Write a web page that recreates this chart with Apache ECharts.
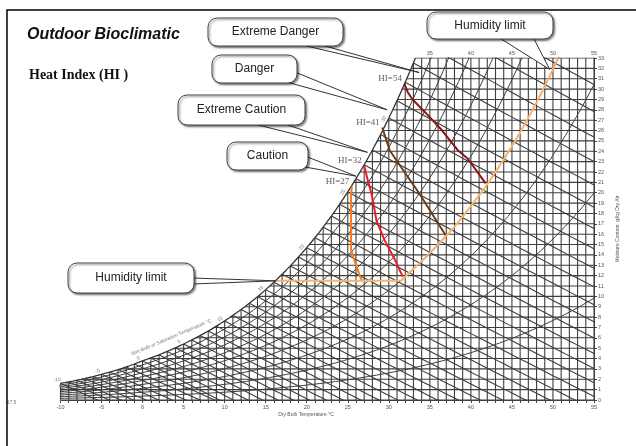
<!DOCTYPE html>
<html><head><meta charset="utf-8">
<script src="https://cdn.jsdelivr.net/npm/echarts@6/dist/echarts.min.js"></script>
<style>html,body{margin:0;padding:0;background:#fff}#c{width:636px;height:446px}</style>
</head><body><div id="c"></div>
<script>
// ---- chart structure (dry bulb °C and saturation vapour pressure kPa) ----
const satTemps = [-10,-9,-8,-7,-6,-5,-4,-3,-2,-1,0,1,2,3,4,5,6,7,8,9,10,11,12,13,14,15,16,17,18,19,20,21,22,23,24,25,26,27,28,29,30,31,32,33,34,35,36,37,38,39,40,41,42,43,44,45,46,47,48,49,50,51,52,53,54,55];
const satPressure = [0.2599,0.2839,0.3097,0.3376,0.3677,0.4015,0.4375,0.4760,0.5173,0.5626,0.6112,0.6571,0.7060,0.7581,0.8135,0.8726,0.9354,1.0021,1.0730,1.1482,1.2282,1.3129,1.4028,1.4981,1.5989,1.7057,1.8187,1.9383,2.0647,2.1982,2.3392,2.4881,2.6452,2.8109,2.9856,3.1697,3.3637,3.5679,3.7828,4.0089,4.2467,4.4966,4.7592,5.0351,5.3247,5.6286,5.9475,6.2818,6.6324,6.9997,7.3844,7.7873,8.2090,8.6503,9.1118,9.5944,10.099,10.626,11.177,11.752,12.352,12.978,13.631,14.312,15.022,15.762];
const moistureTicks = [0,1,2,3,4,5,6,7,8,9,10,11,12,13,14,15,16,17,18,19,20,21,22,23,24,25,26,27,28,29,30,31,32,33];
const wetBulbTemps = [-10,-9,-8,-7,-6,-5,-4,-3,-2,-1,0,1,2,3,4,5,6,7,8,9,10,11,12,13,14,15,16,17,18,19,20,21,22,23,24,25,26,27,28,29,30,31,32,33,34,35,36,37];
const rhLevels = [10,20,30,40,50,60,70,80,90];
const satLabelTemps = [-10,-5,0,5,10,15,20,25,30];
const topLabelTemps = [35,40,45,50,55];

// ---- heat index lines (dry bulb °C, moisture g/kg) ----
const hi27 = [[25.5,20.6],[25.4,19.9],[25.4,14.5],[25.8,13.5],[26.6,11.7],[26.8,11.5]];
const hi32 = [[27.0,22.6],[27.5,21.0],[27.9,19.9],[28.5,17.3],[29.5,15.4],[30.7,13.6],[31.7,11.9]];
const hi41 = [[29.2,26.3],[30.1,24.1],[31.9,22.0],[33.7,19.95],[35.4,17.8],[37.0,15.8]];
const hi54 = [[31.9,30.5],[32.3,29.7],[32.9,29.0],[34.5,27.7],[36.5,26.0],[38.4,24.1],[39.6,23.3],[41.8,20.9]];
const humidityLimit = [[16.3,11.5],[31.5,11.5],[32,11.9],[34,13.4],[36,15.0],[38,16.7],[40,18.7],[42,20.8],[44,23.2],[46,25.8],[48,28.7],[50,31.9],[50.6,33]];
const hiNames = ['HI=27','HI=32','HI=41','HI=54'];

// ---- callouts ----
const calloutLabels = ['Extreme Danger','Danger','Extreme Caution','Caution','Humidity limit','Humidity limit'];
const calloutTargets = [[33.7,31.6],[29.8,28.0],[27.4,23.9],[26.0,21.6],[49.6,31.9],[16.3,11.5]];

const P = 101.325;
function psAt(T){
  if (T <= satTemps[0]) return satPressure[0];
  let i = Math.min(Math.floor(T - satTemps[0]), satTemps.length - 2);
  const f = T - satTemps[i];
  return Math.exp(Math.log(satPressure[i])*(1-f) + Math.log(satPressure[i+1])*f);
}
function wFromP(pv){ return 622*pv/(P-pv); }
function wsat(T){ return wFromP(psAt(T)); }
function tsat(W){
  let lo=-10, hi=55;
  if (wsat(lo) >= W) return -10;
  for (let k=0;k<50;k++){ const m=(lo+hi)/2; if (wsat(m)<W) lo=m; else hi=m; }
  return (lo+hi)/2;
}
function wetBulbW(T, twb){
  const ws = wsat(twb)/1000;
  let w;
  if (twb >= 0) w = ((2501 - 2.326*twb)*ws - 1.006*(T - twb)) / (2501 + 1.86*T - 4.186*twb);
  else w = ((2830 - 0.24*twb)*ws - 1.006*(T - twb)) / (2830 + 1.86*T - 2.1*twb);
  return w*1000;
}

const GRID_COLOR = '#3e3e3e';
const base = {type:'line', symbol:'none', silent:true, animation:false, clip:true, xAxisIndex:0, yAxisIndex:0};
const series = [];
satTemps.forEach(T => {
  series.push(Object.assign({}, base, {lineStyle:{color:GRID_COLOR,width:1.1}, data:[[T,0],[T,Math.min(wsat(T),33)]]}));
});
moistureTicks.forEach(W => {
  series.push(Object.assign({}, base, {lineStyle:{color:GRID_COLOR,width:1.1}, data:[[Math.max(-10,tsat(W)),W],[55,W]]}));
});
wetBulbTemps.forEach(twb => {
  const pts = [];
  for (let T = twb; T <= 55; T += 1) pts.push([T, wetBulbW(T, twb)]);
  series.push(Object.assign({}, base, {lineStyle:{color:GRID_COLOR,width:1.1}, data:pts}));
});
rhLevels.forEach(rh => {
  const pts = [];
  for (let T = -10; T <= 55; T += 0.5) pts.push([T, wFromP(rh/100*psAt(T))]);
  series.push(Object.assign({}, base, {lineStyle:{color:GRID_COLOR,width:1.0}, data:pts}));
});
(function(){
  const pts = []; const tEnd = tsat(33);
  for (let T=-10; T<tEnd; T+=0.5) pts.push([T, wsat(T)]);
  pts.push([tEnd,33]);
  series.push(Object.assign({}, base, {lineStyle:{color:'#333',width:1.3}, data:pts}));
})();
series.push(Object.assign({}, base, {clip:false, lineStyle:{color:'#9c9c9c',width:2.5}, data:[[-16.1,1.35],[-10,1.35]]}));
series.push(Object.assign({}, base, {clip:false, lineStyle:{color:'#d0d0d0',width:1.5}, data:[[-16.3,0],[-10,0]]}));

const hiSets = [[hi27,'#f47b20'],[hi32,'#ec1c2a'],[hi41,'#6e3c14'],[hi54,'#8a1518']];
hiSets.forEach(([d,c]) => series.push(Object.assign({}, base, {z:5, lineStyle:{color:c,width:2}, data:d})));
series.push(Object.assign({}, base, {z:5, lineStyle:{color:'#fbb36e',width:2}, data:humidityLimit}));

series.push({type:'scatter', silent:true, animation:false, symbolSize:1, itemStyle:{color:'rgba(0,0,0,0)'}, z:6,
  data: hiSets.map(([d],i)=>({value:d[0], name:hiNames[i]})),
  label:{show:true, position:'left', distance:2, offset:[0,-5], formatter:'{b}', color:'#333', fontSize:9, fontFamily:'"Liberation Serif","Times New Roman",serif'}});

series.push({type:'scatter', silent:true, animation:false, symbolSize:1, itemStyle:{color:'rgba(0,0,0,0)'}, z:6,
  data: satLabelTemps.map(T => {
    const s = (wsat(T+0.5)-wsat(T-0.5))*(342/33)/(533.5/65);
    const ang = Math.atan(s)*180/Math.PI;
    return {value:[T, wsat(T)], label:{rotate:ang}};
  }),
  label:{show:true, position:'inside', offset:[-3,-4], formatter: p => String(p.value[0]), color:'#555', fontSize:5, fontFamily:'Arial'}});

series.push({type:'scatter', silent:true, animation:false, symbolSize:1, itemStyle:{color:'rgba(0,0,0,0)'}, z:6,
  data:[{value:[4.6, wsat(4.6)], label:{rotate:23}}],
  label:{show:true, position:'inside', offset:[-5,-11], formatter:'Wet Bulb or Saturation Temperature °C', color:'#555', fontSize:5, fontFamily:'Arial'}});

const chart = echarts.init(document.getElementById('c'), null, {renderer:'canvas'});
chart.setOption({
  animation:false,
  backgroundColor:'#fff',
  grid:{left:60.5, right:42, top:58, bottom:46},
  xAxis:[
    {type:'value', min:-10, max:55, interval:1, position:'bottom',
     axisLine:{show:true, onZero:false, lineStyle:{color:'#444'}}, axisTick:{show:true, length:3, lineStyle:{color:'#444'}},
     splitLine:{show:false},
     axisLabel:{fontSize:5.5, color:'#555', margin:4, formatter: v => (v % 5 === 0 ? String(v) : '')}},
    {type:'value', min:-10, max:55, interval:5, position:'top',
     axisLine:{show:false, onZero:false}, axisTick:{show:false}, splitLine:{show:false},
     axisLabel:{fontSize:5.5, color:'#555', margin:2, formatter: v => (topLabelTemps.indexOf(v) >= 0 ? String(v) : '')}}
  ],
  yAxis:{type:'value', min:0, max:33, interval:1, position:'right',
    axisLine:{show:true, onZero:false, lineStyle:{color:'#444'}}, axisTick:{show:true, length:3, lineStyle:{color:'#444'}},
    splitLine:{show:false},
    axisLabel:{fontSize:5.5, color:'#555', margin:4, hideOverlap:false},
    name:'Moisture Content  g/kg Dry Air', nameLocation:'middle', nameRotate:90, nameGap:15,
    nameTextStyle:{fontSize:5, color:'#555'}},
  series: series
});

const calloutBoxes = [[208,18,135,28],[212,55,85,28],[178,95,127,30],[227,142,81,28],[427,12,126,27],[68,263,126,30]];
const calloutBases = [[[298,44],[318,44]],[[283,81],[295,72]],[[250,123],[282,123]],[[305,156],[305,167]],[[498,37],[533,37]],[[192,278],[192,284]]];
const graphics = [];
calloutLabels.forEach((txt,i) => {
  const tip = chart.convertToPixel({gridIndex:0}, calloutTargets[i]);
  const b = calloutBoxes[i], bs = calloutBases[i];
  graphics.push({type:'polygon', z:100, silent:true, shape:{points:[bs[0], tip, bs[1]]}, style:{fill:'#fff', stroke:'#333', lineWidth:1}});
  graphics.push({type:'rect', z:101, silent:true, shape:{x:b[0], y:b[1], width:b[2], height:b[3], r:9},
    style:{fill:'#fff', stroke:'#444', lineWidth:1, shadowBlur:2, shadowOffsetX:1.5, shadowOffsetY:1.5, shadowColor:'rgba(0,0,0,0.5)'}});
  graphics.push({type:'text', z:102, silent:true, style:{text:txt, x:b[0]+b[2]/2, y:b[1]+b[3]/2, textAlign:'center', textVerticalAlign:'middle', font:'12px Arial', fill:'#222'}});
});
graphics.push({type:'text', z:102, silent:true, style:{text:'Outdoor Bioclimatic', x:27, y:35, textVerticalAlign:'middle', font:'italic bold 16px Arial', fill:'#111'}});
graphics.push({type:'text', z:102, silent:true, style:{text:'Heat Index (HI )', x:29, y:75, textVerticalAlign:'middle', font:'bold 14px "Liberation Serif","Times New Roman",serif', fill:'#111'}});
graphics.push({type:'text', z:102, silent:true, style:{text:'Dry Bulb Temperature °C', x:306, y:415, textAlign:'center', textVerticalAlign:'middle', font:'5px Arial', fill:'#555'}});
graphics.push({type:'text', z:102, silent:true, style:{text:'-17.5', x:5, y:403, textVerticalAlign:'middle', font:'5px Arial', fill:'#777'}});
graphics.push({type:'rect', z:110, silent:true, shape:{x:7, y:10, width:640, height:450}, style:{fill:'none', stroke:'#000', lineWidth:1.5}});
chart.setOption({graphic: graphics});
</script>
</body></html>
